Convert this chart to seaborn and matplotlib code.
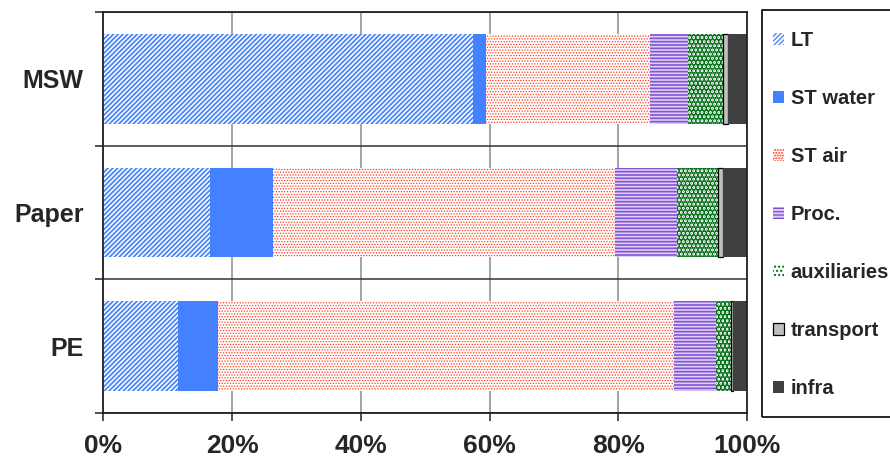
import numpy as np
import matplotlib
matplotlib.use("Agg")
import matplotlib.pyplot as plt
from matplotlib.patches import Patch, Rectangle
import seaborn as sns

# data (% share of each contribution per product)
categories = ["MSW", "Paper", "PE"]
lt = [57.4, 16.5, 11.6]
st_water = [2.0, 9.9, 6.2]
st_air = [25.6, 53.1, 70.9]
proc = [5.8, 9.6, 6.5]
aux = [5.5, 6.4, 2.3]
transport = [0.8, 0.7, 0.3]
infra = [2.9, 3.8, 2.2]

series_names = ["LT", "ST water", "ST air", "Proc.", "auxiliaries", "transport", "infra"]
series_vals = [lt, st_water, st_air, proc, aux, transport, infra]
tick_vals = [0, 20, 40, 60, 80, 100]

# style per series: face, hatch/edge colour, hatch, edge width, hatch width
styles = {
    "LT": dict(face="white", edge="#4a86f4", hatch="///////", lw=0, hlw=1.3),
    "ST water": dict(face="#4381ff", edge="#4381ff", hatch=None, lw=0, hlw=1.0),
    "ST air": dict(face="white", edge="#ff3c1e", hatch="......", lw=0, hlw=0.6),
    "Proc.": dict(face="#ddd0f4", edge="#8252d4", hatch="-----", lw=0, hlw=1.2),
    "auxiliaries": dict(face="white", edge="#006a14", hatch="....", lw=0, hlw=2.8),
    "transport": dict(face="#c0c0c0", edge="black", hatch=None, lw=0.9, hlw=1.0),
    "infra": dict(face="#404040", edge="#404040", hatch=None, lw=0, hlw=1.0),
}

sns.set_style("white")
plt.rcParams["font.family"] = ["Liberation Sans", "DejaVu Sans"]
plt.rcParams["font.weight"] = "bold"

fig = plt.figure(figsize=(8.9, 4.62), dpi=100)
ax = fig.add_axes([103.3 / 890, 1 - 413 / 462, (747 - 103.3) / 890, (413 - 12) / 462])

vals = np.array(series_vals)
lefts = np.cumsum(vals, axis=0) - vals

# stacked bars: one barplot per component, shifted to its running start
for i, name in enumerate(series_names):
    st = styles[name]
    sns.barplot(x=vals[i], y=categories, orient="h", color=st["face"],
                saturation=1, width=0.67, ax=ax)
    for p, left in zip(ax.containers[-1], lefts[i]):
        p.set_x(left)
        p.set_facecolor(st["face"])
        p.set_edgecolor(st["edge"])
        p.set_linewidth(st["lw"])
        if st["hatch"]:
            p.set_hatch(st["hatch"])
            if hasattr(p, "set_hatch_linewidth"):
                p.set_hatch_linewidth(st["hlw"])

ax.set_xlim(0, 100)
ax.set_ylim(2.5, -0.5)
ax.set_xticks(tick_vals)
ax.set_xticklabels([f"{v}%" for v in tick_vals], fontsize=19, fontweight="bold")
ax.set_yticks(range(len(categories)))
ax.set_yticklabels(categories, fontsize=18, fontweight="bold")
ax.set_yticks([-0.5, 0.5, 1.5, 2.5], minor=True)
ax.set_xlabel("")
ax.set_ylabel("")

ax.tick_params(axis="x", which="major", direction="out", length=6, width=1.1,
               color="#222222", pad=9, bottom=True)
ax.tick_params(axis="y", which="major", length=0, pad=14, left=True)
ax.tick_params(axis="y", which="minor", direction="out", length=5.5, width=1.1,
               color="#222222", left=True)

ax.set_axisbelow(True)
ax.grid(axis="x", which="major", color="#8c8c8c", linewidth=1.1)
ax.grid(axis="y", which="major", visible=False)
ax.grid(axis="y", which="minor", color="#333333", linewidth=1.1)

for side in ["left", "right", "top", "bottom"]:
    ax.spines[side].set_visible(True)
    ax.spines[side].set_color("#222222")
    ax.spines[side].set_linewidth(1.3)

# legend
handles = []
for name in series_names:
    st = styles[name]
    handles.append(Patch(facecolor=st["face"], edgecolor=st["edge"],
                         hatch=st["hatch"], linewidth=st["lw"]))
leg = fig.legend(handles, series_names, loc="upper left",
                 bbox_to_anchor=(773 / 890, 1 - 31.5 / 462),
                 frameon=False, borderpad=0, borderaxespad=0,
                 handlelength=0.55, handleheight=0.55, handletextpad=0.33,
                 labelspacing=1.93, prop=dict(size=14.5, weight="bold"))
fig.add_artist(Rectangle((761.7 / 890, 1 - 416.7 / 462), 0.3, 406.7 / 462,
                         transform=fig.transFigure, fill=False,
                         edgecolor="black", linewidth=1.2))

fig.savefig("out.png", dpi=100)
